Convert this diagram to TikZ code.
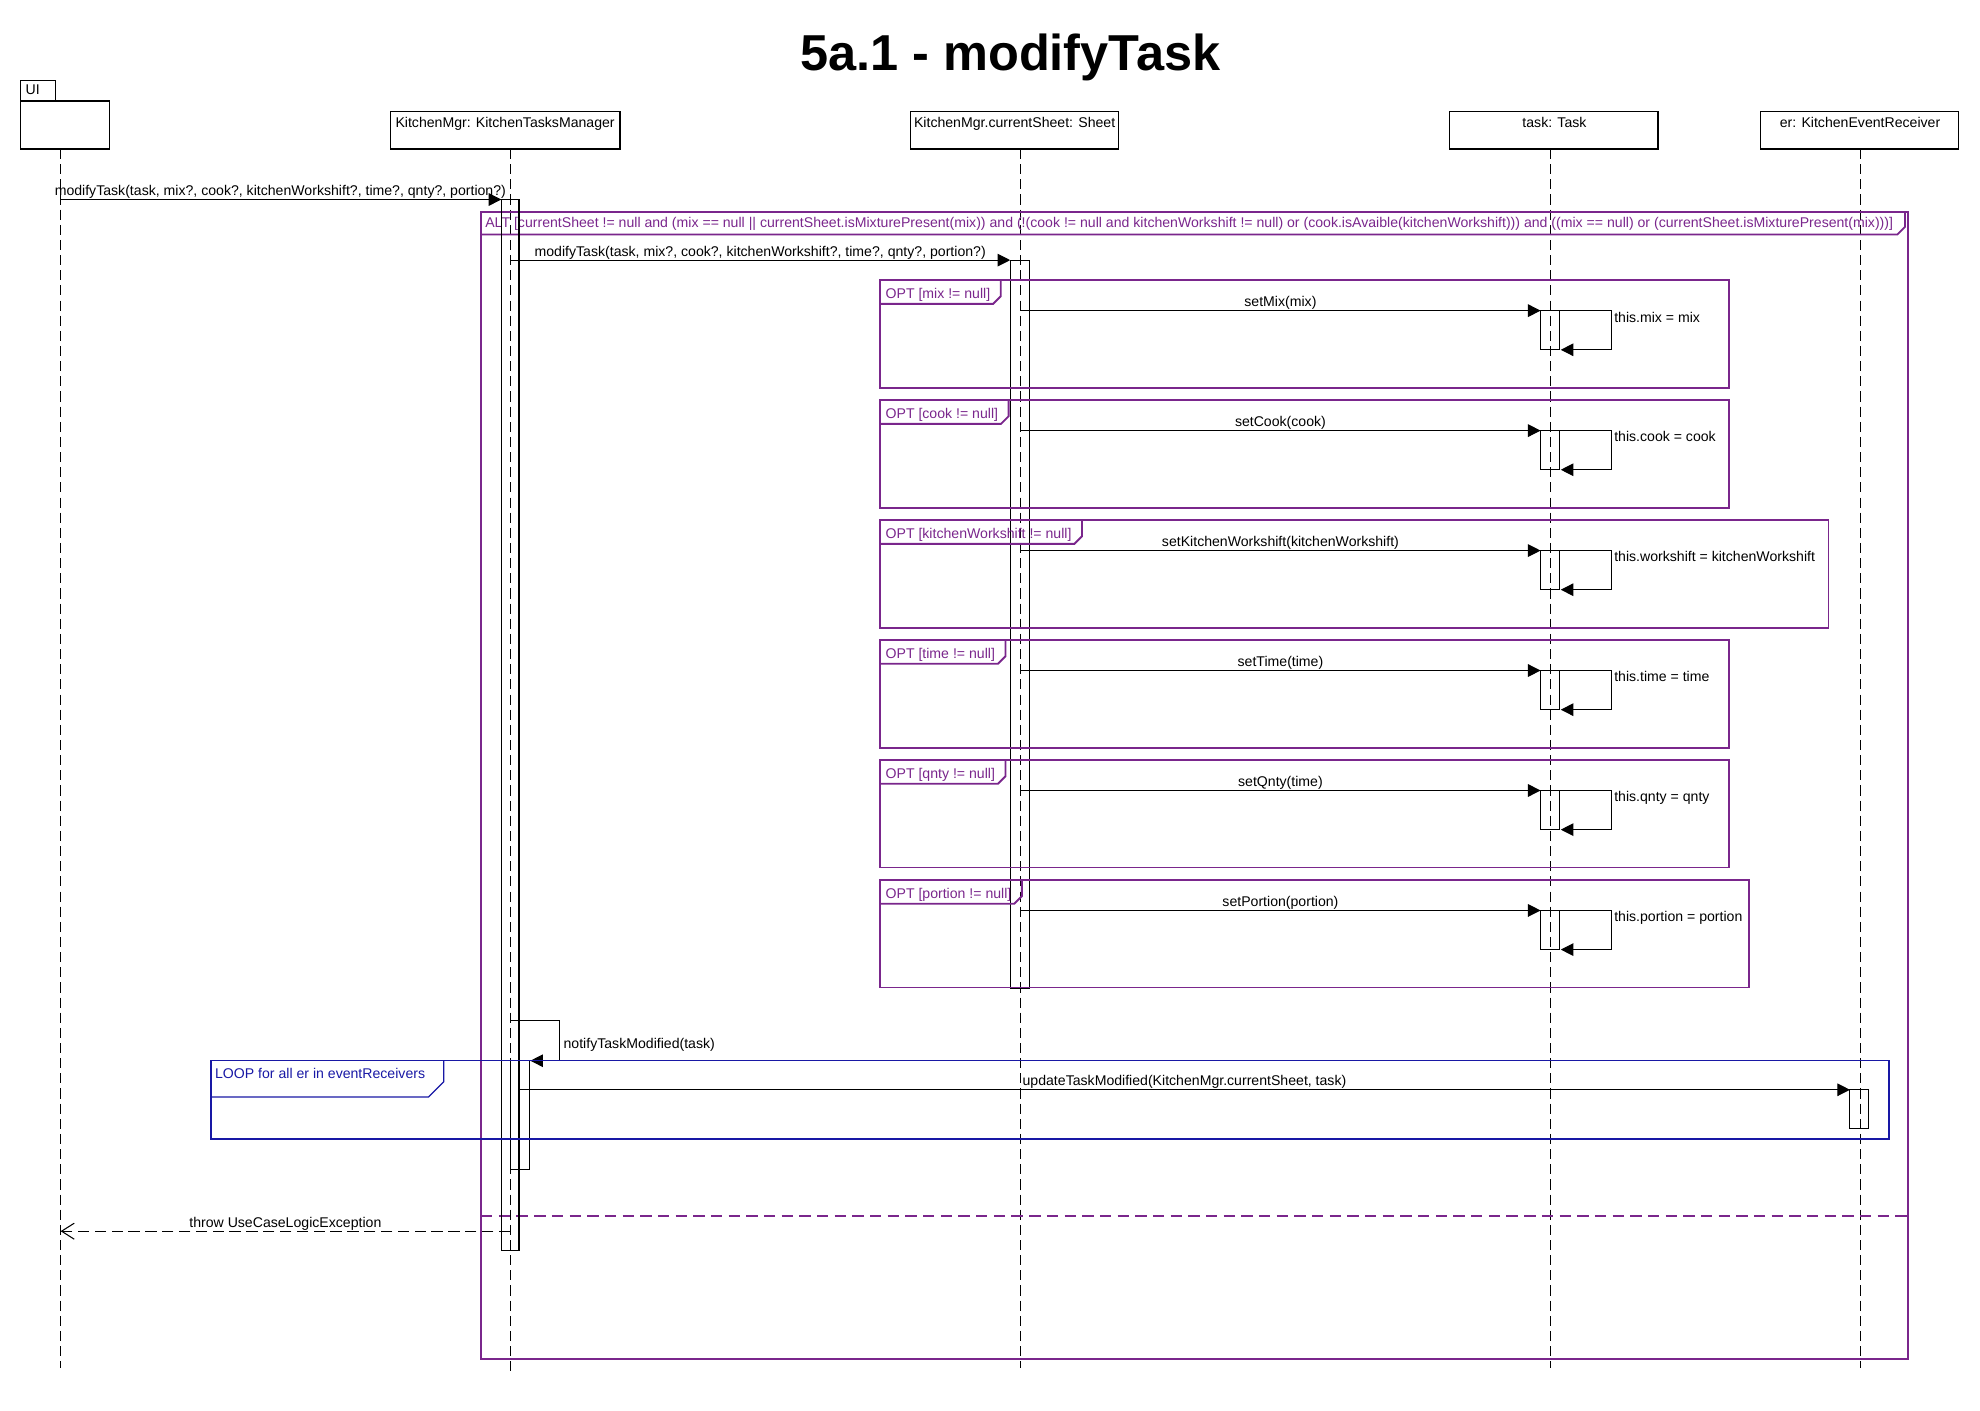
\documentclass[tikz,border=0pt]{standalone}
\usepackage{fontspec}
\setmainfont{Liberation Sans}
\usetikzlibrary{arrows.meta,calc}
\definecolor{optc}{RGB}{122,38,140}
\definecolor{loopc}{RGB}{24,24,165}
\newcommand\fsz{\fontsize{6.7pt}{8pt}\selectfont}
\begin{document}
\begin{tikzpicture}[x=0.6pt,y=-0.6pt,
  every node/.style={font=\fsz, inner sep=0pt},
  hdrbox/.style={draw, line width=0.5pt, minimum height=18pt},
  lifeline/.style={line width=0.5pt, dash pattern=on 4.8pt off 2.4pt},
  actbox/.style={draw, line width=0.5pt},
  msg/.style={line width=0.5pt, -{Triangle[length=6pt,width=6pt]}},
  retmsg/.style={line width=0.5pt, dash pattern=on 5.4pt off 2.6pt, -{Straight Barb[length=6pt,width=7.6pt]}},
  lbl/.style={anchor=base},
  lbll/.style={anchor=base west},
  optframe/.style={draw=optc, line width=0.9pt},
  opttab/.style={anchor=north west, text=optc, text height=8.4pt, text depth=2.4pt},
  alttab/.style={anchor=north west, text=optc, text height=7.2pt, text depth=3pt},
  loopframe/.style={draw=loopc, line width=0.6pt},
  looptab/.style={anchor=north west, text=loopc, text height=8.4pt, text depth=8.4pt},
  altdiv/.style={draw=optc, line width=1.1pt, dash pattern=on 5.4pt off 3pt}
]
\useasboundingbox (0,0) rectangle (1568,1117);

% title
\node[font=\bfseries\fontsize{24pt}{28pt}\selectfont, anchor=base] (title) at (800,56) {5a.1 - modifyTask};

% headers
\node[draw, line width=0.5pt, minimum width=16.8pt, minimum height=9.6pt] (uitab) at (30,72) {};
\node[lbll] (uitxt) at (20,75) {UI};
\node[draw, line width=0.5pt, minimum width=42.6pt, minimum height=22.8pt] (ui) at (51.5,99) {};
\node[hdrbox, minimum width=109.2pt] (km) at (400,103) {};
\node[lbl] (kmtxt) at (400,101) {KitchenMgr: KitchenTasksManager};
\node[hdrbox, minimum width=99pt] (sh) at (803.5,103) {};
\node[lbl] (shtxt) at (803.5,101) {KitchenMgr.currentSheet: Sheet};
\node[hdrbox, minimum width=99pt] (tk) at (1230.5,103) {};
\node[lbl] (tktxt) at (1231,101) {task: Task};
\node[hdrbox, minimum width=94.2pt] (er) at (1472.5,103) {};
\node[lbl] (ertxt) at (1473,101) {er: KitchenEventReceiver};

% lifelines
\coordinate (uiL) at (48,118);   \coordinate (uiE) at (48,1083);
\coordinate (kmL) at (404,118);  \coordinate (kmE) at (404,1086);
\coordinate (shL) at (808,118);  \coordinate (shE) at (808,1083);
\coordinate (tkL) at (1228,118); \coordinate (tkE) at (1228,1083);
\coordinate (erL) at (1473,118); \coordinate (erE) at (1473,1083);
\foreach \a in {ui,km,sh,tk,er} \draw[lifeline] (\a L) -- (\a E);

% ALT frame
\draw[optframe] (381,168) rectangle (1511,1076);
\node[alttab] (alt) at (381,168) {\hspace*{1.8pt}ALT [currentSheet != null and (mix == null || currentSheet.isMixturePresent(mix)) and (!(cook != null and kitchenWorkshift != null) or (cook.isAvaible(kitchenWorkshift))) and ((mix == null) or (currentSheet.isMixturePresent(mix)))]\hspace*{5.4pt}};
\draw[optframe] (alt.south west) -- ([xshift=-3.6pt]alt.south east) -- ([yshift=3.6pt]alt.south east) -- (alt.north east);
\coordinate (divL) at (381,963); \coordinate (divR) at (1511,963);
\draw[altdiv] (divL) -- (divR);

% activations
\draw[actbox] (397,158) rectangle (411,990);
\draw[actbox] (800,206) rectangle (815,783);

% first messages
\coordinate (m1s) at (48,158); \coordinate (m1e) at (397,158);
\draw[msg] (m1s) -- (m1e);
\node[lbl] (m1l) at (222,155) {modifyTask(task, mix?, cook?, kitchenWorkshift?, time?, qnty?, portion?)};
\coordinate (m2s) at (404,206); \coordinate (m2e) at (800,206);
\draw[msg] (m2s) -- (m2e);
\node[lbl] (m2l) at (602,203) {modifyTask(task, mix?, cook?, kitchenWorkshift?, time?, qnty?, portion?)};

% OPT frames
\foreach \m/\ml/\sl/\tp/\tl/\fr in {
  246/{setMix(mix)}/{this.mix = mix}/222/{OPT [mix != null]}/1369,
  341/{setCook(cook)}/{this.cook = cook}/317/{OPT [cook != null]}/1369,
  436/{setKitchenWorkshift(kitchenWorkshift)}/{this.workshift = kitchenWorkshift}/412/{OPT [kitchenWorkshift != null]}/1448,
  531/{setTime(time)}/{this.time = time}/507/{OPT [time != null]}/1369,
  626/{setQnty(time)}/{this.qnty = qnty}/602/{OPT [qnty != null]}/1369,
  721/{setPortion(portion)}/{this.portion = portion}/697/{OPT [portion != null]}/1385}{
  \draw[optframe] (697,\tp) rectangle (\fr,\tp+85);
  \node[opttab] (tab\tp) at (697,\tp) {\hspace*{2.4pt}\tl\hspace*{4.8pt}};
  \draw[optframe] (tab\tp.south west) -- ([xshift=-3.6pt]tab\tp.south east) -- ([yshift=3.6pt]tab\tp.south east) -- (tab\tp.north east);
  \coordinate (ms\tp) at (808,\m); \coordinate (me\tp) at (1220,\m);
  \draw[msg] (ms\tp) -- (me\tp);
  \node[lbl] (ml\tp) at (1014,\m-3) {\ml};
  \draw[actbox] (1220,\m) rectangle (1235,\m+31);
  \coordinate (ss\tp) at (1235,\m); \coordinate (se\tp) at (1236,\m+31);
  \draw[msg] (ss\tp) -- (1276,\m) -- (1276,\m+31) -- (se\tp);
  \node[lbll] (sl\tp) at (1278,\m+9) {\sl};
}

% notifyTaskModified
\draw[actbox] (404,840) rectangle (419,926);
\coordinate (ns) at (404,808); \coordinate (ne) at (420,840);
\draw[msg] (ns) -- (443,808) -- (443,840) -- (ne);
\node[lbll] (nl) at (446,830) {notifyTaskModified(task)};

% LOOP frame
\draw[loopframe] (167,840) rectangle (1496,902);
\node[looptab] (loop) at (167,840) {\hspace*{1.8pt}LOOP for all er in eventReceivers\hspace*{8.6pt}};
\draw[loopframe] (loop.south west) -- ([xshift=-7.2pt]loop.south east) -- ([yshift=7.2pt]loop.south east) -- (loop.north east);
\draw[actbox] (1465,863) rectangle (1480,894);
\coordinate (us) at (411,863); \coordinate (ue) at (1465,863);
\draw[msg] (us) -- (ue);
\node[lbl] (ul) at (938,860) {updateTaskModified(KitchenMgr.currentSheet, task)};

% throw
\coordinate (ts) at (404,975); \coordinate (te) at (48,975);
\draw[retmsg] (ts) -- (te);
\node[lbl] (tl) at (226,972) {throw UseCaseLogicException};
\end{tikzpicture}
\end{document}
